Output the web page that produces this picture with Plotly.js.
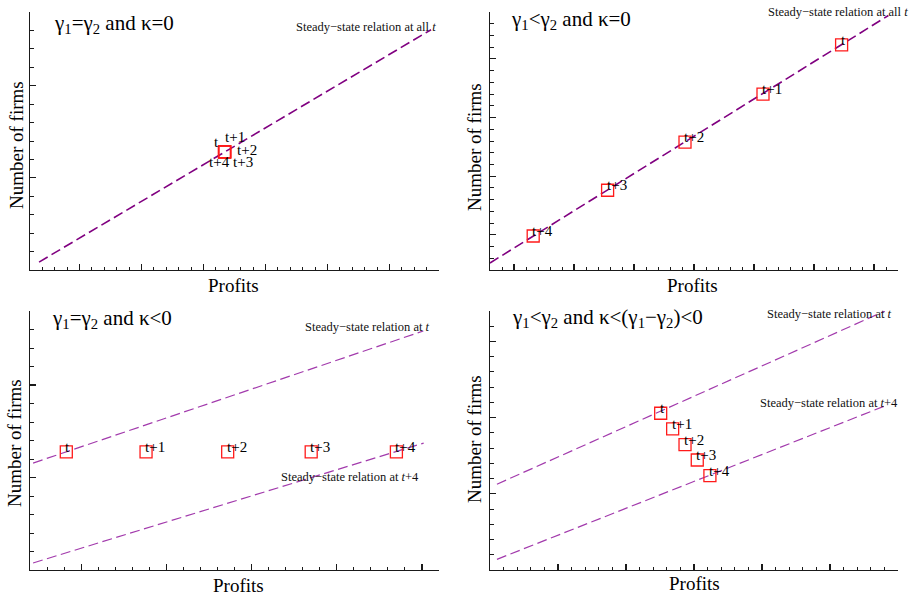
<!DOCTYPE html>
<html><head><meta charset="utf-8">
<script src="https://cdn.plot.ly/plotly-3.0.1.min.js"></script>
<style>html,body{margin:0;padding:0;background:#fff}#c{width:915px;height:596px}</style>
</head><body><div id="c"></div>
<script>
// ---- data ----
const pointLabels = ['t','t+1','t+2','t+3','t+4'];

// Panel A: γ1=γ2 and κ=0
const profitsA = [15.7, 15.7, 15.7, 15.7, 15.7];
const firmsA   = [6.41, 6.41, 6.41, 6.41, 6.41];
const lineA_x  = [0.73, 32.36];
const lineA_y  = [0.43, 13.04];

// Panel B: γ1<γ2 and κ=0
const profitsB = [29.3, 22.75, 16.25, 9.8, 3.6];
const firmsB   = [19.2, 15.0, 10.9, 6.8, 2.9];
const lineB_x  = [0, 33.2];
const lineB_y  = [0.6, 21.7];

// Panel C: γ1=γ2 and κ<0
const profitsC = [2.13, 6.81, 11.6, 16.5, 21.5];
const firmsC   = [6.38, 6.38, 6.38, 6.38, 6.38];
const lineC_t_x  = [0.18, 23.08];
const lineC_t_y  = [5.78, 12.92];
const lineC_t4_x = [0.18, 23.1];
const lineC_t4_y = [0.38, 6.86];

// Panel D: γ1<γ2 and κ<(γ1−γ2)<0
const profitsD = [12.55, 13.43, 14.34, 15.24, 16.17];
const firmsD   = [10.29, 9.26, 8.23, 7.22, 6.19];
const lineD_t_x  = [0.51, 29.04];
const lineD_t_y  = [5.63, 17.0];
const lineD_t4_x = [0.51, 29.04];
const lineD_t4_y = [0.7, 10.77];

const panelTitles = [
  'γ<sub>1</sub>=γ<sub>2</sub> and κ=0',
  'γ<sub>1</sub><γ<sub>2</sub> and κ=0',
  'γ<sub>1</sub>=γ<sub>2</sub> and κ<0',
  'γ<sub>1</sub><γ<sub>2</sub> and κ<(γ<sub>1</sub>−γ<sub>2</sub>)<0'
];
const xTitle = 'Profits';
const yTitle = 'Number of firms';

// ---- style / layout helpers ----
const W = 915, H = 596;
const px = v => v / W;
const py = v => 1 - v / H;
const FONT = 'Liberation Serif';
const AX = '#1a1a1a';
const topLine = {color:'#800080', width:1.6, dash:'10px,4.5px'};
const botLine = {color:'#a23aac', width:1.2, dash:'10px,4.5px'};
const mk = {symbol:'square-open', size:12, color:'#ff1a1a', line:{width:1.3, color:'#ff1a1a'}};

function lineTrace(x, y, xa, ya, style){
  return {x, y, xaxis:xa, yaxis:ya, mode:'lines', line:style, hoverinfo:'skip', showlegend:false};
}
function ptTrace(x, y, xa, ya){
  return {x, y, xaxis:xa, yaxis:ya, mode:'markers', marker:mk, showlegend:false};
}

const traces = [
  lineTrace(lineA_x, lineA_y, 'x', 'y', topLine),
  ptTrace(profitsA, firmsA, 'x', 'y'),
  lineTrace(lineB_x, lineB_y, 'x2', 'y2', topLine),
  ptTrace(profitsB, firmsB, 'x2', 'y2'),
  lineTrace(lineC_t_x, lineC_t_y, 'x3', 'y3', botLine),
  lineTrace(lineC_t4_x, lineC_t4_y, 'x3', 'y3', botLine),
  ptTrace(profitsC, firmsC, 'x3', 'y3'),
  lineTrace(lineD_t_x, lineD_t_y, 'x4', 'y4', botLine),
  lineTrace(lineD_t4_x, lineD_t4_y, 'x4', 'y4', botLine),
  ptTrace(profitsD, firmsD, 'x4', 'y4')
];

function axis(domain, range, tick0, anchor){
  return {
    domain, range, anchor, showgrid:false, zeroline:false, showticklabels:false,
    showline:true, linecolor:AX, linewidth:1.1,
    ticks:'inside', ticklen:6, tickwidth:1.1, tickcolor:AX, tickmode:'linear', tick0, dtick:5,
    minor:{ticks:'inside', ticklen:3.5, tickwidth:1, tickcolor:AX, dtick:1, tick0:0, showgrid:false},
    fixedrange:true
  };
}

const dL = [px(30), px(439)], dR = [px(490), px(898)];
const dT = [py(270), py(12)], dB = [py(570), py(311)];

const annotations = [];
function ann(o){ annotations.push(Object.assign({showarrow:false, font:{family:FONT, size:15, color:'#000'}}, o)); }

// point labels
const offA = [[-8,10],[10,15],[22,2],[18,-10],[-5,-10]];
pointLabels.forEach((s,i)=>{
  ann({text:s, x:profitsA[i], y:firmsA[i], xref:'x', yref:'y', xanchor:'center', yanchor:'middle', xshift:offA[i][0], yshift:offA[i][1]});
});
[[profitsB, firmsB, 'x2','y2'],[profitsC, firmsC,'x3','y3'],[profitsD, firmsD,'x4','y4']].forEach(([xs,ys,xr,yr])=>{
  pointLabels.forEach((s,i)=>{
    ann({text:s, x:xs[i], y:ys[i], xref:xr, yref:yr, xanchor:'left', yanchor:'middle', xshift:-3, yshift:5});
  });
});

// panel titles
const titlePos = [[52,24],[509,20],[50,319],[510,318]];
panelTitles.forEach((t,i)=>{
  ann({text:t, x:px(titlePos[i][0]), y:py(titlePos[i][1]), xref:'paper', yref:'paper', xanchor:'left', yanchor:'middle', font:{family:FONT, size:21, color:'#000'}});
});

// steady-state captions
const small = {family:FONT, size:12.5, color:'#111'};
const caps = [
  ['Steady−state relation at all <i>t</i>', 438, 27],
  ['Steady−state relation at all <i>t</i>', 910, 12],
  ['Steady−state relation at <i>t</i>', 432, 327],
  ['Steady−state relation at <i>t</i>+4', 421, 477],
  ['Steady−state relation at <i>t</i>', 894, 314],
  ['Steady−state relation at <i>t</i>+4', 900, 403]
];
caps.forEach(c=>ann({text:c[0], x:px(c[1]), y:py(c[2]), xref:'paper', yref:'paper', xanchor:'right', yanchor:'middle', font:small}));

// axis titles
const axFont = {family:FONT, size:19, color:'#000'};
[[233,285],[692,285],[238,585],[694,583]].forEach(p=>ann({text:xTitle, x:px(p[0]), y:py(p[1]), xref:'paper', yref:'paper', xanchor:'center', yanchor:'middle', font:axFont}));
[[16,145],[475,147],[14,443],[474,439]].forEach(p=>ann({text:yTitle, x:px(p[0]), y:py(p[1]), xref:'paper', yref:'paper', xanchor:'center', yanchor:'middle', textangle:-90, font:axFont}));

const layout = {
  width:W, height:H, margin:{l:0,r:0,t:0,b:0}, paper_bgcolor:'#fff', plot_bgcolor:'rgba(0,0,0,0)',
  showlegend:false, font:{family:FONT},
  xaxis: axis(dL, [0,33], 4, 'y'),
  yaxis: axis(dT, [0,14], 0, 'x'),
  xaxis2: axis(dR, [0,34], 2, 'y2'),
  yaxis2: axis(dT, [0,22], 3, 'x2'),
  xaxis3: axis(dL, [0,24], 3, 'y3'),
  yaxis3: axis(dB, [0,14], 0, 'x3'),
  xaxis4: axis(dR, [0,30], 0, 'y4'),
  yaxis4: axis(dB, [0,17], 0, 'x4'),
  annotations
};

Plotly.newPlot('c', traces, layout, {staticPlot:true, displayModeBar:false});
</script></body></html>
